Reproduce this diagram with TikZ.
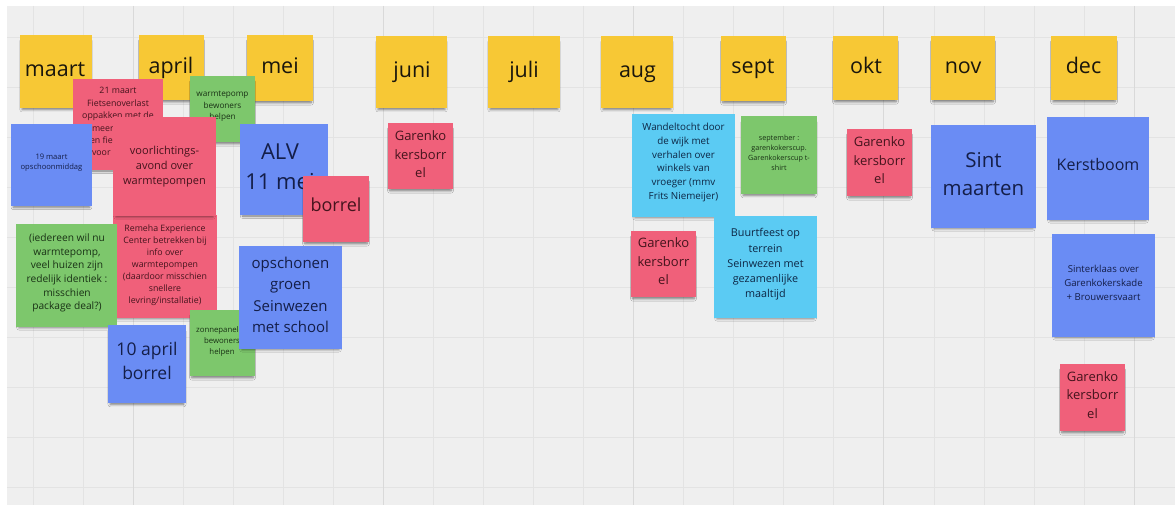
\documentclass[tikz,border=0pt]{standalone}
\usepackage{fontspec}
\setmainfont{Open Sans}
\usetikzlibrary{shadows.blur}
\definecolor{cBg}{HTML}{EFEFEF}
\definecolor{cGrid}{HTML}{E3E3E3}
\definecolor{cGridD}{HTML}{D9D9D9}
\definecolor{cYel}{HTML}{F7C835}
\definecolor{cRed}{HTML}{F0607A}
\definecolor{cBlue}{HTML}{6A8CF4}
\definecolor{cCyan}{HTML}{5BCBF3}
\definecolor{cGreen}{HTML}{7DC76C}
\definecolor{tYel}{HTML}{1A160C}
\definecolor{tRed}{HTML}{45141D}
\definecolor{tBlue}{HTML}{141E48}
\definecolor{tCyan}{HTML}{0D2644}
\definecolor{tGreen}{HTML}{193115}
\newcommand\setfs[2]{\fontsize{#1}{#2}\selectfont}
\tikzset{
  note/.style={draw=none, inner sep=0pt, outer sep=0pt,
    blur shadow={shadow xshift=0pt, shadow yshift=-4pt, shadow opacity=50,
      shadow blur radius=2.5pt, shadow blur steps=6, shadow scale=0.94}},
  yel/.style={note, fill=cYel},
  red/.style={note, fill=cRed},
  blu/.style={note, fill=cBlue},
  cya/.style={note, fill=cCyan},
  grn/.style={note, fill=cGreen},
  tx/.style={inner sep=0pt, outer sep=0pt, align=center},
  mon/.style={tx, anchor=base, text=tYel, font=\setfs{21.5}{25}},
  gline/.style={cGrid, line width=0.7pt},
  gdark/.style={cGridD, line width=0.8pt},
}
\begin{document}
\begin{tikzpicture}[x=1pt,y=-1pt]
\useasboundingbox (0,0) rectangle (1175,508);
\fill[white] (0,0) rectangle (1175,508);
\fill[cBg] (7,6) rectangle (1175,505);
% grid
\foreach \k in {0,...,9} \draw[gline] (7,{37+50*\k}) -- (1175,{37+50*\k});
\foreach \i in {0,...,22} {
  \pgfmathtruncatemacro\md{mod(\i,5)}
  \ifnum\md=2
    \draw[gdark] ({33+50.05*\i},6) -- ({33+50.05*\i},505);
  \else
    \draw[gline] ({33+50.05*\i},6) -- ({33+50.05*\i},505);
  \fi
}
% ---------- months ----------
\node[yel, minimum width=72pt, minimum height=73pt] (maart) at (56,71.5) {};
\node[mon] (maart-t) at (55,77) {maart};
\node[yel, minimum width=65pt, minimum height=65pt] (april) at (171.5,67.5) {};
\node[mon] (april-t) at (171,74) {april};
\node[yel, minimum width=66pt, minimum height=66pt] (mei) at (280,68) {};
\node[mon] (mei-t) at (280,74) {mei};
\node[yel, minimum width=71pt, minimum height=72pt] (juni) at (411.5,72) {};
\node[mon] (juni-t) at (412,78) {juni};
\node[yel, minimum width=72pt, minimum height=72pt] (juli) at (524,72) {};
\node[mon] (juli-t) at (524,78) {juli};
\node[yel, minimum width=72pt, minimum height=72pt] (aug) at (637,72) {};
\node[mon] (aug-t) at (637.5,78) {aug};
\node[yel, minimum width=65pt, minimum height=65pt] (sept) at (753.5,68.5) {};
\node[mon] (sept-t) at (753,74) {sept};
\node[yel, minimum width=65pt, minimum height=64pt] (okt) at (865.5,68) {};
\node[mon] (okt-t) at (866,74) {okt};
\node[yel, minimum width=64pt, minimum height=64pt] (nov) at (963,68) {};
\node[mon] (nov-t) at (963,74) {nov};
\node[yel, minimum width=66pt, minimum height=64pt] (dec) at (1084,68) {};
\node[mon] (dec-t) at (1083.5,74) {dec};
% ---------- maart / april / mei ----------
\node[red, minimum width=90pt, minimum height=91pt] (r21) at (118,124.5) {};
\node[tx, text=tRed, font=\setfs{8.8}{12.4}] (r21-t) at (118,104) {21 maart\\Fietsenoverlast\\oppakken met de};
\node[tx, text=tRed, font=\setfs{8.8}{12.4}, anchor=west] (r21-a) at (92,129) {meer};
\node[tx, text=tRed, font=\setfs{8.8}{12.4}, anchor=west] (r21-b) at (90,140.5) {en fie};
\node[tx, text=tRed, font=\setfs{8.8}{12.4}, anchor=west] (r21-c) at (92,153) {voor};
\node[grn, minimum width=65pt, minimum height=66pt] (gw) at (222.5,109) {};
\node[tx, text=tGreen, font=\setfs{8.2}{11.7}] (gw-t) at (222.5,106.5) {warmtepomp\\bewoners\\helpen};
\node[blu, minimum width=81pt, minimum height=82pt] (b19) at (51.5,165) {};
\node[tx, text=tBlue, font=\setfs{7.6}{10.2}] (b19-t) at (51.5,163) {19 maart\\opschoonmiddag};
\node[red, minimum width=104pt, minimum height=103pt] (remeha) at (165,266.5) {};
\node[tx, text=tRed, font=\setfs{8.8}{12}] (remeha-t) at (165,265) {Remeha Experience\\Center betrekken bij\\info over\\warmtepompen\\(daardoor misschien\\snellere\\levring/installatie)};
\node[red, minimum width=103pt, minimum height=99pt] (voor) at (164.5,166.5) {};
\node[tx, text=tRed, font=\setfs{11}{15}] (voor-t) at (164.5,166.5) {voorlichtings-\\avond over\\warmtepompen};
\node[blu, minimum width=88pt, minimum height=91pt] (alv) at (284,169.5) {};
\node[tx, text=tBlue, font=\setfs{22}{30}] (alv-t) at (280,167) {ALV\\11 mei};
\node[red, minimum width=66pt, minimum height=66pt] (borrel) at (336,209) {};
\node[tx, text=tRed, font=\setfs{18}{22}] (borrel-t) at (336,205) {borrel};
\node[grn, minimum width=101pt, minimum height=103pt] (ied) at (66.5,275.5) {};
\node[tx, text=tGreen, font=\setfs{10.2}{13.7}] (ied-t) at (67,273) {(iedereen wil nu\\warmtepomp,\\veel huizen zijn\\redelijk identiek :\\misschien\\package deal?)};
\node[blu, minimum width=78pt, minimum height=78pt] (a10) at (147,364) {};
\node[tx, text=tBlue, font=\setfs{17.5}{24}] (a10-t) at (147,361) {10 april\\borrel};
\node[grn, minimum width=65pt, minimum height=66pt] (zon) at (222.5,343) {};
\node[tx, text=tGreen, font=\setfs{7.8}{10.6}] (zon-t) at (222,341.5) {zonnepanelen\\bewoners\\helpen};
\node[blu, minimum width=103pt, minimum height=103pt] (ops) at (290.5,297.5) {};
\node[tx, text=tBlue, font=\setfs{15}{21.4}] (ops-t) at (290.5,295) {opschonen\\groen\\Seinwezen\\met school};
% ---------- juni ----------
\node[red, minimum width=65pt, minimum height=66pt] (gjuni) at (420.5,156) {};
\node[tx, text=tRed, font=\setfs{13}{18.5}] (gjuni-t) at (420.5,154.5) {Garenko\\kersborr\\el};
% ---------- aug / sept ----------
\node[cya, minimum width=103pt, minimum height=103pt] (wand) at (683.5,165.5) {};
\node[tx, text=tCyan, font=\setfs{9.8}{13.9}] (wand-t) at (683.5,162.5) {Wandeltocht door\\de wijk met\\verhalen over\\winkels van\\vroeger (mmv\\Frits Niemeijer)};
\node[grn, minimum width=76pt, minimum height=78pt] (sep) at (779,155) {};
\node[tx, text=tGreen, font=\setfs{7.2}{10}] (sep-t) at (779,153) {september :\\garenkokerscup.\\Garenkokerscup t-\\shirt};
\node[red, minimum width=65pt, minimum height=66pt] (gaug) at (663.5,264) {};
\node[tx, text=tRed, font=\setfs{13}{18.5}] (gaug-t) at (663.5,261.5) {Garenko\\kersborr\\el};
\node[cya, minimum width=103pt, minimum height=102pt] (buurt) at (765.5,267) {};
\node[tx, text=tCyan, font=\setfs{10.8}{15.2}] (buurt-t) at (765.5,264.5) {Buurtfeest op\\terrein\\Seinwezen met\\gezamenlijke\\maaltijd};
% ---------- okt / nov / dec ----------
\node[red, minimum width=65pt, minimum height=67pt] (gokt) at (879.5,162.5) {};
\node[tx, text=tRed, font=\setfs{13}{18.5}] (gokt-t) at (879.5,160.5) {Garenko\\kersborr\\el};
\node[blu, minimum width=105pt, minimum height=103pt] (sint) at (983.5,176.5) {};
\node[tx, text=tBlue, font=\setfs{20.5}{28}] (sint-t) at (983.5,174) {Sint\\maarten};
\node[blu, minimum width=102pt, minimum height=103pt] (kerst) at (1098,168.5) {};
\node[tx, text=tBlue, font=\setfs{16}{20}] (kerst-t) at (1098,165) {Kerstboom};
\node[blu, minimum width=103pt, minimum height=103pt] (sinter) at (1103.5,285.5) {};
\node[tx, text=tBlue, font=\setfs{9.6}{14}] (sinter-t) at (1103.5,283) {Sinterklaas over\\Garenkokerskade\\+ Brouwersvaart};
\node[red, minimum width=65pt, minimum height=67pt] (gdec) at (1092.5,397.5) {};
\node[tx, text=tRed, font=\setfs{13}{18.5}] (gdec-t) at (1092.5,395) {Garenko\\kersborr\\el};
\end{tikzpicture}
\end{document}
